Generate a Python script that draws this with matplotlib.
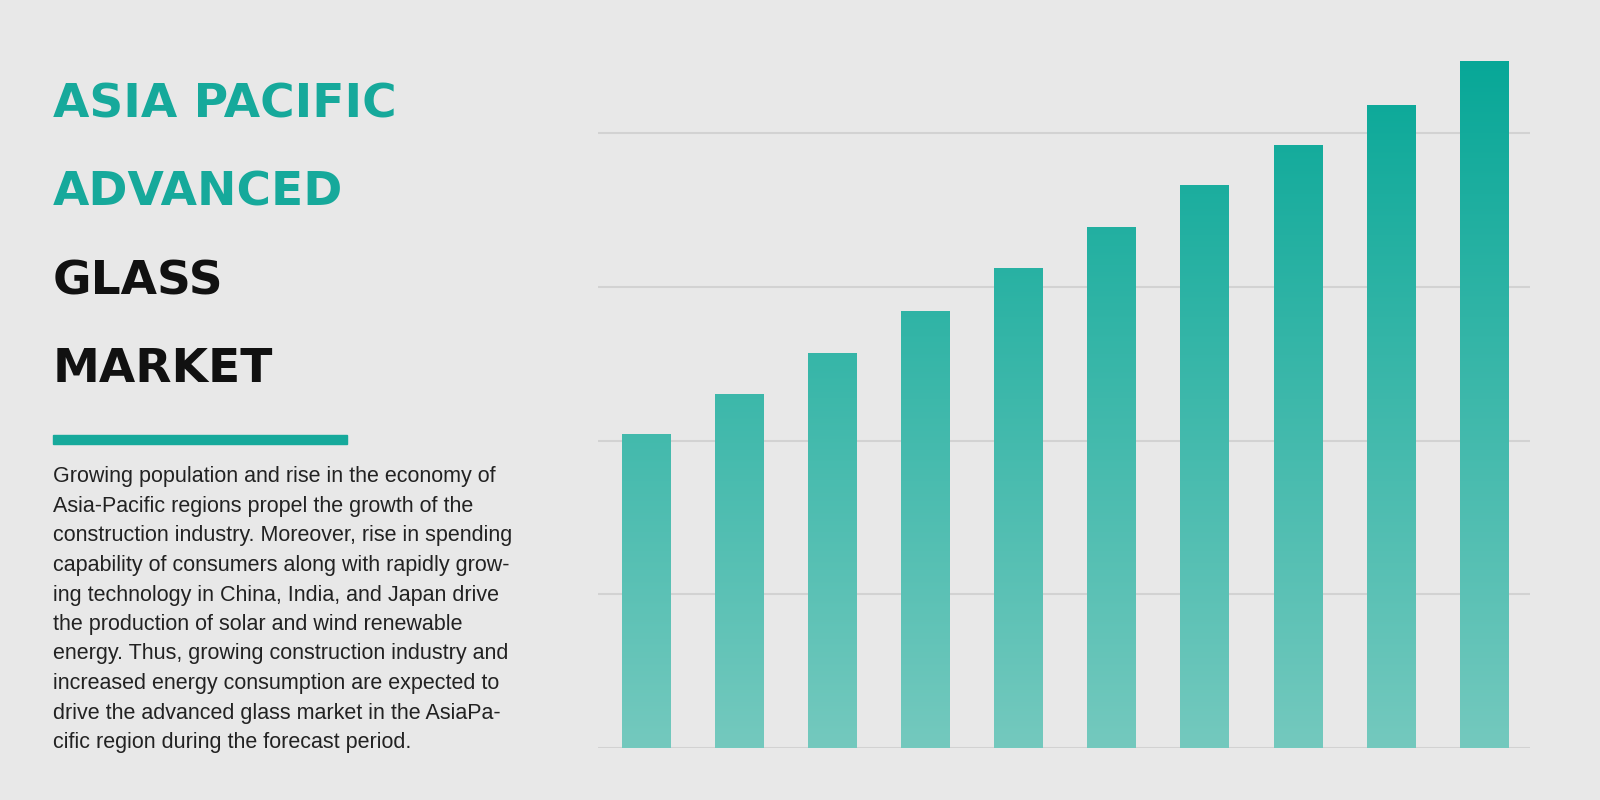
import matplotlib
matplotlib.use("Agg")
import matplotlib.pyplot as plt
import numpy as np
from matplotlib.patches import Rectangle
from matplotlib.colors import LinearSegmentedColormap
from matplotlib import font_manager

categories = [str(i) for i in range(1, 11)]
values = [2.04, 2.30, 2.57, 2.84, 3.12, 3.39, 3.66, 3.92, 4.18, 4.47]
title_teal = ["ASIA PACIFIC", "ADVANCED"]
title_black = ["GLASS", "MARKET"]
body = ["Growing population and rise in the economy of",
        "Asia-Pacific regions propel the growth of the",
        "construction industry. Moreover, rise in spending",
        "capability of consumers along with rapidly grow-",
        "ing technology in China, India, and Japan drive",
        "the production of solar and wind renewable",
        "energy. Thus, growing construction industry and",
        "increased energy consumption are expected to",
        "drive the advanced glass market in the AsiaPa-",
        "cific region during the forecast period."]

BG = "#e8e8e8"
TEAL = "#16a99b"
fig = plt.figure(figsize=(16, 8), dpi=100, facecolor=BG)

ax = fig.add_axes([598/1600, 52/800, 932/1600, 698/800])
ax.set_facecolor(BG)
ymax = 698/153.75
for g in range(0, 5):
    ax.axhline(g, color="#d2d2d2", lw=1.5, zorder=0)
for s in ax.spines.values():
    s.set_visible(False)
ax.set_xticks([]); ax.set_yticks([])

grad = np.linspace(0, 1, 256).reshape(-1, 1)
cmap = LinearSegmentedColormap.from_list("g", ["#74c9be", "#06a797"])
x = np.arange(len(values))
bars = ax.bar(x, values, width=0.52, color="none", zorder=2)
for b in bars:
    im = ax.imshow(grad, cmap=cmap, aspect="auto", origin="lower",
                   extent=[b.get_x(), b.get_x()+b.get_width(), 0, ymax],
                   vmin=0, vmax=1, zorder=2)
    im.set_clip_path(b)
ax.set_xlim(-0.516, 9.494)
ax.set_ylim(0, ymax)

names = {f.name for f in font_manager.fontManager.ttflist}
tfam = ["Liberation Sans Narrow", "DejaVu Sans"] if "Liberation Sans Narrow" in names else ["DejaVu Sans"]
ys = [105, 193, 282, 370]
for i, t in enumerate(title_teal + title_black):
    txt = fig.text(53/1600, 1 - ys[i]/800, t, fontsize=60, fontweight="bold",
                   family=tfam, color=TEAL if i < 2 else "#111111",
                   va="center", ha="left")
# fit first title line width to ~343px
fig.canvas.draw()
r = fig.canvas.get_renderer()
w = fig.texts[0].get_window_extent(r).width
scale = min(1.0, 343 / w)
for t in fig.texts[:4]:
    t.set_fontsize(60 * scale)

fig.patches.append(Rectangle((53/1600, 1-444/800), 294/1600, 9/800,
                             transform=fig.transFigure, color=TEAL))
for i, line in enumerate(body):
    fig.text(53/1600, 1 - (477 + i*29.5)/800, line, fontsize=15.5,
             family="Liberation Sans", color="#222222", va="center", ha="left")

fig.savefig("out.png", dpi=100, facecolor=BG)
